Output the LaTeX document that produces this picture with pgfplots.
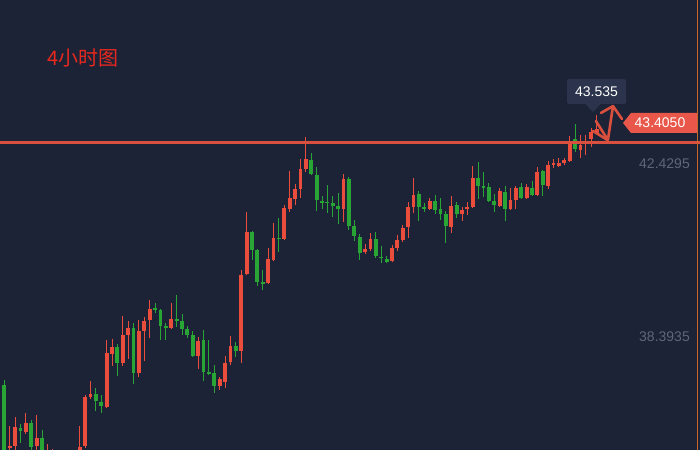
\documentclass[border=0pt]{standalone}
\usepackage{pgfplots}
\pgfplotsset{compat=1.18}
\usepackage{pgfplotstable}
\usepackage{fontspec}
\setmainfont{Liberation Sans}
\newfontfamily\cjk{Noto Sans CJK SC}

\definecolor{bg}{HTML}{1D2336}
\definecolor{upred}{HTML}{EB4D3D}
\definecolor{dngreen}{HTML}{28A535}
\definecolor{lvl}{HTML}{D9503E}
\definecolor{ticktext}{HTML}{5F6678}
\definecolor{tip}{HTML}{2B344C}
\definecolor{tag}{HTML}{E8574A}
\definecolor{titlered}{HTML}{E8281E}
\definecolor{vline}{HTML}{C8662A}

% x = candle index, o/c = open/close, h/l = high/low
\pgfplotstableread{
x o h l c
1 35.80 36.32 35.71 35.85
2 35.85 36.53 35.71 36.29
4 36.18 36.62 36.13 36.39
6 35.85 36.57 35.71 36.04
8 35.41 35.90 35.29 35.64
9 35.41 35.78 35.29 35.64
11 35.29 35.64 35.18 35.53
13 35.41 35.71 35.29 35.64
14 35.57 36.32 35.48 35.83
15 35.85 37.04 35.80 36.99
16 36.99 37.37 36.95 37.06
19 36.76 38.32 36.74 38.02
20 38.00 38.35 37.72 38.16
22 37.79 38.88 37.72 38.44
23 38.44 38.77 37.88 38.60
25 37.55 38.79 37.46 38.53
26 38.53 38.86 37.83 38.77
27 38.79 39.26 38.37 39.05
31 38.60 39.19 38.58 38.81
36 37.95 38.39 37.65 38.30
40 37.25 37.46 37.16 37.41
41 37.34 37.95 37.20 37.79
42 37.81 38.42 37.74 38.18
44 38.07 39.96 37.79 39.84
45 39.86 41.31 39.84 40.84
49 39.65 40.47 39.63 40.21
50 40.19 41.05 40.17 40.70
52 40.68 41.47 40.66 41.40
53 41.38 42.27 41.31 41.64
54 41.61 41.96 41.47 41.85
55 41.85 42.55 41.64 42.31
56 42.31 43.06 42.24 42.55
63 41.38 42.20 41.08 42.08
67 40.38 40.56 40.33 40.45
68 40.45 40.82 40.40 40.68
72 40.17 40.54 40.14 40.47
73 40.47 40.77 40.40 40.66
74 40.66 41.01 40.61 40.94
75 40.96 41.54 40.70 41.43
76 41.43 42.10 41.29 41.71
79 41.38 41.64 41.36 41.57
83 40.96 41.68 40.82 41.45
85 41.26 41.43 41.10 41.36
86 41.38 41.54 41.24 41.43
87 41.43 42.38 41.40 42.10
92 41.45 41.87 41.43 41.80
94 41.38 41.87 41.36 41.59
95 41.59 41.92 41.38 41.87
97 41.64 41.96 41.61 41.89
99 41.71 42.36 41.68 42.24
101 41.92 42.50 41.85 42.41
102 42.41 42.55 42.34 42.45
103 42.38 42.57 42.36 42.45
104 42.45 42.57 42.41 42.52
105 42.50 43.08 42.48 42.92
107 42.76 43.11 42.57 42.87
108 42.90 43.11 42.64 42.94
109 43.01 43.27 42.83 43.18
110 43.15 43.57 43.13 43.25
}\upcandles

\pgfplotstableread{
x o h l c
0 37.27 37.39 35.29 35.52
3 36.27 36.36 35.92 36.20
5 36.39 36.46 35.71 35.83
7 36.04 36.22 35.53 35.64
10 35.53 35.64 35.18 35.29
12 35.57 35.71 35.24 35.34
17 37.06 37.20 36.67 36.90
18 36.88 37.04 36.62 36.78
21 38.16 38.23 37.48 37.79
24 38.60 38.72 37.30 37.55
28 39.07 39.19 38.95 39.02
29 39.02 39.05 38.32 38.65
30 38.65 38.72 38.32 38.61
32 38.81 39.37 38.63 38.77
33 38.77 38.93 38.44 38.58
34 38.58 38.65 38.37 38.44
35 38.44 38.53 37.93 37.95
37 38.32 38.56 37.37 37.58
38 37.58 38.32 37.51 37.54
39 37.55 37.74 37.09 37.25
43 38.18 38.28 37.93 38.07
46 40.84 40.87 40.19 40.42
47 40.42 40.45 39.58 39.68
48 39.68 39.96 39.49 39.64
51 40.70 41.17 40.38 40.67
57 42.52 42.69 42.17 42.20
58 42.17 42.36 41.33 41.59
59 41.57 41.68 41.38 41.52
60 41.54 41.94 41.29 41.51
61 41.52 41.68 41.19 41.45
62 41.45 41.75 41.03 41.38
64 42.08 42.13 40.89 40.98
65 40.98 41.12 40.63 40.75
66 40.73 40.80 40.19 40.35
69 40.68 40.84 40.24 40.28
70 40.26 40.52 40.12 40.23
71 40.21 40.28 40.12 40.14
77 41.73 41.80 41.10 41.43
78 41.43 41.52 41.31 41.38
80 41.57 41.71 41.26 41.36
81 41.38 41.64 41.12 41.26
82 41.26 41.33 40.59 40.98
84 41.47 41.54 41.17 41.26
88 42.10 42.48 41.61 41.92
89 41.92 42.24 41.66 41.88
90 41.89 41.99 41.54 41.57
91 41.57 41.73 41.31 41.47
93 41.78 41.92 41.10 41.38
96 41.89 41.99 41.61 41.64
98 41.87 42.03 41.68 41.71
100 42.27 42.29 41.68 41.94
106 43.01 43.36 42.71 42.78
}\dncandles

\begin{document}
\begin{tikzpicture}
\begin{axis}[
    width=700bp, height=450bp, scale only axis,
    xmin=-0.8, xmax=129.2,
    ymin=35.7575, ymax=46.2555,
    axis background/.style={fill=bg},
    axis line style={draw=none},
    xtick=\empty,
    ytick={38.3935,42.4295},
    yticklabels={38.3935,42.4295},
    yticklabel pos=right,
    major tick length=0pt,
    yticklabel style={anchor=east, inner sep=0pt, xshift=-10bp,
        text=ticktext, font=\fontsize{14bp}{16bp}\selectfont},
]
% wicks
\addplot[upred, line width=1bp, quiver={u=0, v=\thisrow{h}-\thisrow{l}}]
    table[x=x, y=l] {\upcandles};
\addplot[dngreen, line width=1bp, quiver={u=0, v=\thisrow{h}-\thisrow{l}}]
    table[x=x, y=l] {\dncandles};
% bodies
\addplot[upred, line width=3.8bp, quiver={u=0, v=\thisrow{c}-\thisrow{o}}]
    table[x=x, y=o] {\upcandles};
\addplot[dngreen, line width=3.8bp, quiver={u=0, v=\thisrow{c}-\thisrow{o}}]
    table[x=x, y=o] {\dncandles};

% price level line
\addplot[lvl, line width=3bp] coordinates {(-0.8,42.94) (129.2,42.94)};

% hand drawn arrow
\addplot[lvl, line width=2.6bp, line join=round, line cap=round]
    coordinates {(109.88,43.43) (112.10,42.99) (113.04,43.78)};
\addplot[lvl, line width=2.6bp, line cap=round]
    coordinates {(109.32,43.20) (112.0,42.99)};
\addplot[lvl, line width=2.6bp, line join=round, line cap=round]
    coordinates {(110.81,43.62) (113.04,43.78) (114.71,43.48)};

\coordinate (nw) at (rel axis cs:0,1);
\coordinate (se) at (rel axis cs:1,0);
\end{axis}

\begin{scope}[shift={(nw)}, x=1bp, y=-1bp]
    \node[anchor=west, inner sep=0pt, text=titlered,
        font=\cjk\fontsize{20bp}{22bp}\selectfont] at (47,57.5) {4小时图};
    % tooltip
    \fill[tip, rounded corners=2bp] (567,79) rectangle (626,104);
    \fill[tip] (585,103.5) -- (601,103.5) -- (593,112) -- cycle;
    \node[white, font=\fontsize{14bp}{16bp}\selectfont] at (596.5,92) {43.535};
    % price tag
    \fill[tag] (623,123) -- (631,113) -- (697,113) -- (697,133) -- (631,133) -- cycle;
    \node[white, font=\fontsize{14bp}{16bp}\selectfont] at (660,122.5) {43.4050};
    \draw[vline, line width=1bp] (697.5,0) -- (697.5,450);
\end{scope}

\pgfresetboundingbox
\path (nw) rectangle (se);
\end{tikzpicture}
\end{document}
